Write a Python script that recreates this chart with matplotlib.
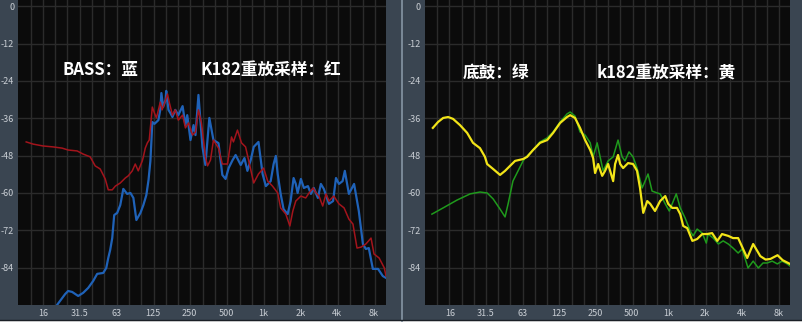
import numpy as np
import matplotlib
matplotlib.use("Agg")
import matplotlib.pyplot as plt
from matplotlib.lines import Line2D
from matplotlib.patches import Rectangle

plt.rcParams['font.family'] = ['Noto Sans CJK SC', 'DejaVu Sans']

# ---------------- datos ----------------
# panel izquierdo: BASS (azul) vs K182 (rojo)
bass_f = [20.7, 21.9, 24.1, 25.5, 27.5, 30.8, 33.8, 37.2, 40.8, 44.0, 49.3, 52.2, 54.2, 56.2,
          58.4, 60.6, 64.1, 67.9, 71.9, 77.3, 82.2, 86.9, 91.9, 99.2, 104.8, 110.8, 115.5,
          119.6, 122, 124, 129, 134, 139, 144, 147, 152, 159, 161, 168, 174, 181, 191, 202,
          219, 231, 239, 254, 269, 279, 295, 318, 336, 362, 391, 430, 462, 491, 520, 561,
          593, 653, 700, 740, 788, 833, 911, 984, 1047, 1146, 1211, 1262, 1307, 1382, 1460,
          1576, 1667, 1762, 1836, 1901, 2021, 2138, 2307, 2440, 2577, 2782, 2942, 3110,
          3425, 3700, 3908, 4131, 4424, 4613, 4980, 5490, 6000, 6480, 6850, 7240, 7810,
          8610, 9420, 10000]
bass_db = [-96, -94.7, -92.5, -91.5, -91.8, -93.1, -92.1, -90.5, -88.3, -86.0, -85.7, -84.1,
           -80.9, -78.3, -74.5, -67.1, -66.4, -63.9, -58.7, -60.3, -60.0, -61.6, -68.7, -66.4,
           -63.9, -60.7, -55.8, -49.7, -43.0, -37.2, -37.8, -37.2, -36.6, -33.3, -27.9, -32.4,
           -30.1, -27.2, -33.3, -34.3, -35.6, -33.3, -35.0, -32.1, -38.2, -35.0, -43.0, -38.2,
           -41.4, -28.5, -45.2, -51.0, -35.9, -43.0, -44.0, -54.2, -55.5, -52.0, -49.4, -47.8,
           -51.0, -48.8, -52.9, -49.4, -45.2, -43.6, -53.9, -57.8, -56.2, -50.7, -48.1, -53.9,
           -60.3, -65.2, -66.8, -62.6, -55.2, -57.1, -60.0, -55.5, -58.4, -57.8, -60.3, -58.4,
           -61.6, -57.1, -58.7, -63.5, -62.6, -55.2, -57.1, -56.2, -52.9, -60.3, -57.1, -65.8,
           -76.4, -78.0, -77.7, -84.4, -84.4, -86.7, -87.3]

k182_f = [11.6, 13.2, 15.9, 19.2, 22.8, 25.5, 30.2, 33.8, 38.6, 42.4, 46.6, 51.2, 54.2, 58.4,
          61.9, 67.9, 74.6, 78.9, 85.1, 90, 95.2, 102.7, 104.8, 108.6, 113, 117, 124, 129,
          134, 139, 144, 149, 159, 165, 171, 181, 191, 202, 219, 231, 245, 264, 279, 295,
          312, 324, 336, 350, 370, 391, 430, 462, 509, 549, 569, 614, 662, 715, 756, 833,
          911, 1004, 1084, 1186, 1307, 1382, 1523, 1643, 1737, 1836, 2021, 2213, 2356, 2542,
          2688, 2842, 3045, 3240, 3425, 3748, 4131, 4550, 4980, 5375, 5800, 6260, 6850,
          7550, 7980, 8790, 9690, 10000]
k182_db = [-43.6, -44.3, -44.9, -45.2, -45.6, -46.2, -46.5, -47.5, -48.4, -51.3, -52.3, -55.5,
           -59.0, -59.0, -57.8, -56.8, -55.2, -54.5, -52.9, -50.7, -52.9, -49.7, -48.4, -45.6,
           -43.9, -43.0, -32.4, -34.3, -35.9, -33.3, -30.8, -33.3, -30.1, -28.2, -31.1, -35.0,
           -33.3, -36.6, -35.0, -39.1, -37.5, -41.4, -40.4, -33.3, -37.5, -43.0, -48.4, -51.3,
           -49.4, -43.0, -45.6, -50.7, -50.7, -42.0, -43.6, -39.8, -43.9, -45.2, -49.4, -56.8,
           -53.9, -52.0, -56.2, -57.8, -60.0, -64.8, -66.8, -70.6, -65.8, -62.6, -61.0, -61.6,
           -60.0, -58.4, -60.0, -61.0, -64.2, -60.3, -62.6, -61.0, -63.5, -64.8, -68.4, -70.0,
           -77.7, -77.4, -76.4, -74.5, -79.6, -80.9, -84.1, -86.7]

# panel derecho: 底鼓 (verde) vs k182 (amarillo)
kick_f = [11.4, 14.1, 18.3, 23.5, 28.3, 32.4, 36.3, 41.4, 45.5, 48.2, 52.8, 58.2, 64.0, 66.4,
          77.3, 88.2, 101, 113, 129, 147, 156, 171, 188, 207, 228, 241, 260, 275, 291, 320,
          352, 386, 417, 440, 475, 513, 553, 609, 644, 681, 735, 810, 856, 943, 1018, 1099,
          1162, 1253, 1372, 1512, 1598, 1725, 1901, 2051, 2123, 2340, 2577, 2822, 3110, 3402,
          3748, 4045, 4519, 4980, 5490, 6000, 6480, 7140, 7870, 8610, 9490, 10000]
kick_db = [-66.8, -64.8, -62.3, -60.3, -59.7, -60.0, -61.9, -65.2, -67.7, -63.5, -56.2, -52.9,
           -49.7, -48.8, -46.2, -43.6, -42.3, -40.4, -37.2, -34.6, -34.0, -35.3, -40.4, -41.4,
           -43.9, -48.4, -43.9, -48.4, -52.9, -49.7, -48.4, -43.0, -48.4, -49.7, -46.8, -48.4,
           -52.0, -58.4, -56.2, -53.9, -59.4, -60.0, -60.3, -63.5, -65.8, -62.6, -60.3, -64.8,
           -68.0, -72.2, -73.8, -71.6, -72.9, -76.1, -73.2, -74.5, -76.4, -75.4, -76.4, -77.7,
           -79.3, -78.0, -84.1, -81.9, -84.1, -82.5, -82.5, -81.9, -82.8, -81.9, -82.8, -83.5]

rs_f = [11.6, 12.8, 14.1, 15.5, 17.0, 19.4, 22.2, 24.8, 28.3, 31.1, 32.4, 36.3, 41.4, 45.5,
        50.0, 55.0, 64.0, 69.1, 77.3, 88.2, 101, 113, 129, 147, 156, 171, 188, 207, 228, 241,
        250, 265, 286, 302, 320, 352, 365, 386, 402, 425, 467, 513, 553, 585, 622, 671, 710,
        777, 856, 943, 997, 1076, 1178, 1253, 1325, 1430, 1576, 1725, 1901, 2080, 2290, 2525,
        2763, 3110, 3402, 3748, 4450, 4980, 5700, 6300, 6900, 7900, 8700, 10000]
rs_db = [-39.1, -37.2, -35.9, -35.6, -36.2, -38.2, -40.7, -43.9, -45.6, -48.4, -50.7, -52.3,
         -54.2, -52.9, -51.3, -49.7, -49.1, -48.4, -46.2, -43.9, -43.0, -40.7, -37.5, -35.6,
         -35.0, -35.9, -39.1, -43.0, -46.2, -48.8, -53.6, -50.7, -54.5, -52.9, -50.7, -56.2,
         -50.7, -47.8, -50.7, -52.0, -50.4, -50.7, -52.9, -58.4, -66.4, -62.6, -63.5, -65.8,
         -62.6, -61.0, -63.5, -64.8, -64.8, -66.8, -70.6, -71.3, -75.4, -74.8, -73.2, -73.2,
         -72.9, -75.4, -73.2, -73.8, -74.5, -74.5, -80.9, -76.4, -80.3, -81.4, -81.2, -80.0,
         -81.6, -82.8]

xtick_vals = [16, 31.5, 63, 125, 250, 500, 1000, 2000, 4000, 8000]
xtick_txt = ["16", "31.5", "63", "125", "250", "500", "1k", "2k", "4k", "8k"]
ytick_vals = [0, -12, -24, -36, -48, -60, -72, -84]

# ---------------- figura ----------------
W, H = 802, 322
fig = plt.figure(figsize=(W / 100, H / 100), dpi=100)
fig.patch.set_facecolor("#3a4551")

panel_bg = "#0b0b0b"
grid_c = "#2b2b2b"
txt_c = "#c9ced4"


def setup(ax):
    ax.set_facecolor(panel_bg)
    ax.set_xscale("log")
    ax.set_xlim(10, 10000)
    ax.set_ylim(-96, 2)
    for k in range(1, 30):
        ax.axvline(10 * 2 ** (k / 3), color=grid_c, lw=1.0, zorder=0)
    for v in ytick_vals:
        ax.axhline(v, color=grid_c, lw=1.0, zorder=0)
    ax.set_xticks(xtick_vals)
    ax.set_xticklabels(xtick_txt)
    ax.xaxis.set_minor_locator(matplotlib.ticker.NullLocator())
    ax.set_yticks(ytick_vals)
    ax.set_yticklabels([str(v) for v in ytick_vals])
    ax.tick_params(length=0, colors=txt_c, labelsize=6.5, pad=3)
    for s in ax.spines.values():
        s.set_visible(False)


ax1 = fig.add_axes([18.3 / W, 17 / H, 367.7 / W, 305 / H])
ax2 = fig.add_axes([425 / W, 17 / H, 365 / W, 305 / H])
setup(ax1)
setup(ax2)

ax1.plot(k182_f, k182_db, color="#a3141c", lw=1.1, zorder=3)
ax1.plot(bass_f, bass_db, color="#1f62b8", lw=1.6, zorder=2)

ax2.plot(kick_f, kick_db, color="#1f9a1c", lw=1.1, zorder=2)
ax2.plot(rs_f, rs_db, color="#f2e418", lw=1.6, zorder=3)

# separador y bordes
fig.add_artist(Line2D([401.5 / W, 401.5 / W], [0, 1], color="#8696a5", lw=1.2))
fig.add_artist(Rectangle((0, 0), 1, 2 / H, transform=fig.transFigure,
                         color="#f0f0f0", lw=0))
fig.add_artist(Line2D([0, 1], [2.5 / H, 2.5 / H], color="#1a1f25", lw=1))

# etiquetas
kw = dict(color="white", fontsize=12, fontweight="bold", va="center", ha="left")
fig.text(62 / W, 1 - 70 / H, "BASS：蓝", **kw)
fig.text(200 / W, 1 - 70 / H, "K182重放采样：红", **kw)
fig.text(463 / W, 1 - 73 / H, "底鼓：绿", **kw)
fig.text(597 / W, 1 - 73 / H, "k182重放采样：黄", **kw)

fig.savefig("out.png", dpi=100, facecolor=fig.get_facecolor())
